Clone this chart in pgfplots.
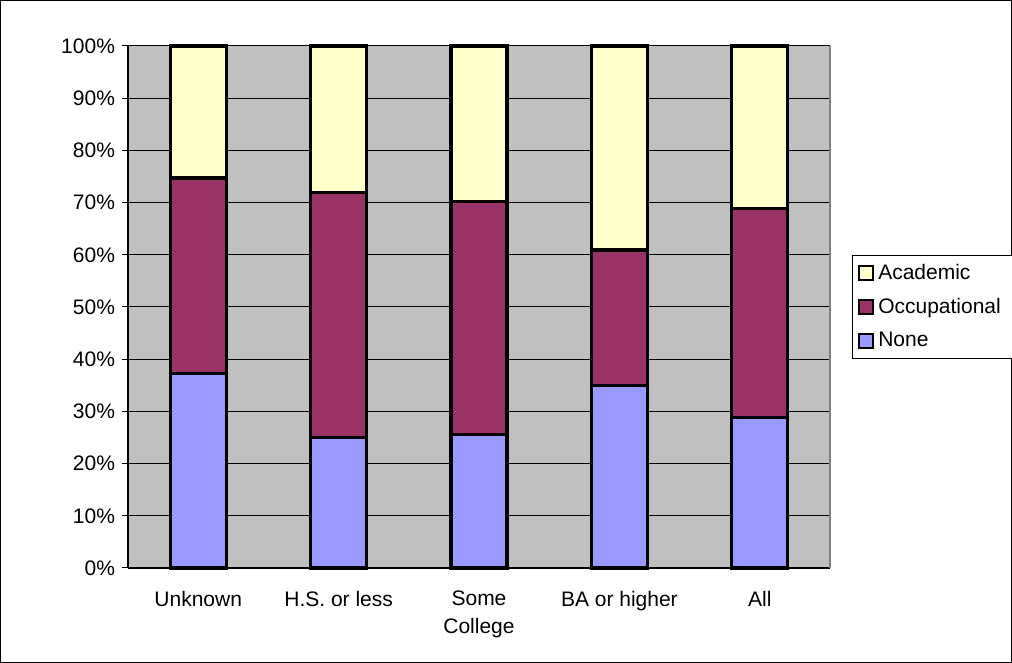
\documentclass[border=0pt]{standalone}
\usepackage{pgfplots}
\pgfplotsset{compat=1.18}
\usepackage{fontspec}
\setmainfont{Liberation Sans}
\definecolor{cnone}{HTML}{9999FF}
\definecolor{cocc}{HTML}{993366}
\definecolor{cacad}{HTML}{FFFFCC}
\definecolor{plotbg}{HTML}{C0C0C0}
\begin{document}
\begin{tikzpicture}[x=1pt,y=1pt]
\useasboundingbox (0,0) rectangle (506,331.5);
\draw[black, line width=0.5pt] (0.25,0.25) rectangle (505.75,331.25);
\begin{axis}[
  at={(64pt,47.5pt)}, anchor=south west,
  scale only axis, width=351pt, height=261pt,
  ybar stacked, bar width=28pt,
  xmin=-0.5, xmax=4.5, ymin=0, ymax=100,
  axis background/.style={fill=plotbg},
  axis line style={black, line width=0.6pt},
  axis x line*=bottom, axis y line*=left,
  xtick={0,1,2,3,4},
  xticklabels={Unknown, H.S. or less, Some\\College, BA or higher, All},
  xticklabel style={align=center, yshift=-8pt, font=\fontsize{10.5}{14}\selectfont},
  major x tick style={draw=none},
  extra x ticks={-0.5,0.5,1.5,2.5,3.5,4.5},
  extra x tick labels={},
  extra x tick style={major tick length=3pt, tick align=outside, tick style={black, line width=0.5pt}, grid=none},
  ytick={0,10,...,100},
  yticklabels={0\%,10\%,20\%,30\%,40\%,50\%,60\%,70\%,80\%,90\%,100\%},
  ytick align=outside, major tick length=3pt,
  tick style={black, line width=0.5pt},
  ymajorgrids, major grid style={black, line width=0.5pt},
  tick label style={font=\fontsize{10.5}{12}\selectfont},
  reverse legend,
  legend style={at={(1.031,0.5)}, anchor=west, draw=black, line width=0.5pt,
    font=\fontsize{10.5}{12}\selectfont, row sep=4pt, inner xsep=3pt, inner ysep=2.5pt},
  legend cell align=left,
  legend image code/.code={\draw[#1, line width=1pt] (0pt,-3.5pt) rectangle (7pt,3.5pt);},
  clip=false,
]
\addplot[fill=cnone, draw=black, line width=1.6pt] coordinates {(0,37.3) (1,25.0) (2,25.6) (3,34.9) (4,28.9)};
\addplot[fill=cocc, draw=black, line width=1.6pt] coordinates {(0,37.4) (1,46.9) (2,44.6) (3,26.0) (4,40.0)};
\addplot[fill=cacad, draw=black, line width=1.6pt] coordinates {(0,25.3) (1,28.1) (2,29.8) (3,39.1) (4,31.1)};
\legend{\makebox[63pt][l]{None}, \makebox[63pt][l]{Occupational}, \makebox[63pt][l]{Academic}}
\draw[gray, line width=1pt] (axis cs:4.5,0) -- (axis cs:4.5,100);
\end{axis}
\end{tikzpicture}
\end{document}
